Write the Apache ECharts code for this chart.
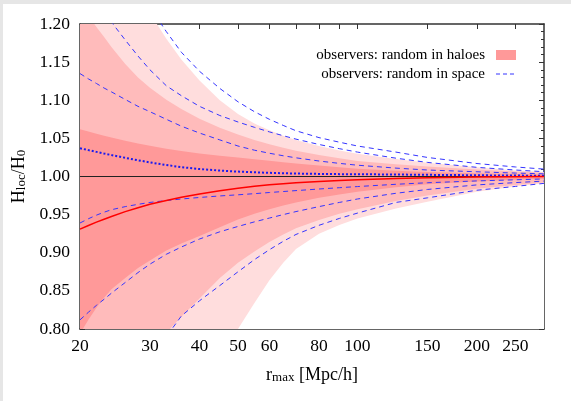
<!DOCTYPE html>
<html><head><meta charset="utf-8">
<script src="https://cdn.jsdelivr.net/npm/echarts@6/dist/echarts.min.js"></script>
<style>html,body{margin:0;padding:0;background:#fff}#c{width:571px;height:401px}</style>
</head><body><div id="c"></div>
<script>
// x samples (r_max, Mpc/h)
const xs = [20, 21, 22, 23, 24, 26, 28, 30, 33, 36, 40, 45, 50, 55, 60, 65, 70, 80, 90, 100, 125, 150, 200, 250, 295];
// observers random in haloes: shaded band edges
const lightUpper  = [1.40, 1.37, 1.345, 1.32, 1.30, 1.268, 1.24, 1.2143, 1.1805, 1.1533, 1.1259, 1.100, 1.082, 1.0696, 1.0605, 1.0535, 1.048, 1.040, 1.034, 1.030, 1.023, 1.018, 1.012, 1.008, 1.006];
const mediumUpper = [1.227, 1.211, 1.196, 1.183, 1.170, 1.1475, 1.130, 1.1163, 1.1006, 1.0884, 1.0758, 1.064, 1.055, 1.0479, 1.0422, 1.0376, 1.0339, 1.0282, 1.0238, 1.0204, 1.016, 1.013, 1.0093, 1.0066, 1.005];
const darkUpper   = [1.062, 1.059, 1.0562, 1.0536, 1.0512, 1.0468, 1.0432, 1.0402, 1.0364, 1.0334, 1.0302, 1.0272, 1.0248, 1.0225, 1.0205, 1.0187, 1.0171, 1.0143, 1.0121, 1.0103, 1.0075, 1.006, 1.0042, 1.0032, 1.0025];
const darkLower   = [0.794, 0.812, 0.828, 0.841, 0.852, 0.867, 0.880, 0.890, 0.903, 0.912, 0.922, 0.9335, 0.9435, 0.9512, 0.9572, 0.962, 0.966, 0.972, 0.9765, 0.980, 0.986, 0.9897, 0.9935, 0.9957, 0.997];
const mediumLower = [0.66, 0.675, 0.69, 0.70, 0.715, 0.735, 0.755, 0.772, 0.795, 0.816, 0.840, 0.867, 0.887, 0.9015, 0.914, 0.924, 0.932, 0.943, 0.951, 0.957, 0.968, 0.975, 0.984, 0.989, 0.992];
const lightLower  = [0.45, 0.47, 0.49, 0.51, 0.53, 0.56, 0.59, 0.62, 0.65, 0.68, 0.72, 0.765, 0.80, 0.834, 0.864, 0.887, 0.905, 0.925, 0.9365, 0.945, 0.958, 0.967, 0.980, 0.987, 0.991];
const haloMean    = [0.931, 0.9358, 0.9401, 0.944, 0.9476, 0.9539, 0.9591, 0.9635, 0.9685, 0.9727, 0.9771, 0.9813, 0.9845, 0.9871, 0.9891, 0.9906, 0.9918, 0.9936, 0.9949, 0.9959, 0.9975, 0.9985, 0.9994, 0.9998, 1.0];
// observers random in space: dashed limits and dotted mean
const space1Up = [1.135, 1.128, 1.122, 1.116, 1.111, 1.101, 1.092, 1.085, 1.075, 1.066, 1.057, 1.048, 1.040, 1.0345, 1.0305, 1.0272, 1.0245, 1.0203, 1.0172, 1.0148, 1.011, 1.0085, 1.0062, 1.0045, 1.0035];
const space1Lo = [0.939, 0.9446, 0.9493, 0.9532, 0.9564, 0.9605, 0.9635, 0.966, 0.9685, 0.9705, 0.9725, 0.9745, 0.976, 0.9775, 0.979, 0.9803, 0.9815, 0.9836, 0.9853, 0.9868, 0.9898, 0.9918, 0.9942, 0.9957, 0.9968];
const space2Up = [1.263, 1.246, 1.2295, 1.216, 1.2026, 1.179, 1.158, 1.140, 1.119, 1.106, 1.092, 1.080, 1.0715, 1.0645, 1.0585, 1.0535, 1.049, 1.042, 1.0365, 1.032, 1.024, 1.0185, 1.012, 1.0085, 1.0063];
const space2Lo = [0.812, 0.822, 0.831, 0.839, 0.847, 0.861, 0.874, 0.885, 0.898, 0.9075, 0.918, 0.9275, 0.9345, 0.9405, 0.9455, 0.950, 0.954, 0.9605, 0.966, 0.9705, 0.978, 0.983, 0.989, 0.992, 0.994];
const space3Up = [1.40, 1.375, 1.35, 1.33, 1.31, 1.28, 1.25, 1.222, 1.19, 1.163, 1.138, 1.1155, 1.098, 1.085, 1.075, 1.067, 1.060, 1.051, 1.045, 1.040, 1.032, 1.025, 1.017, 1.0125, 1.0097];
const space3Lo = [0.60, 0.62, 0.64, 0.66, 0.675, 0.70, 0.725, 0.75, 0.79, 0.817, 0.837, 0.857, 0.875, 0.891, 0.904, 0.915, 0.924, 0.936, 0.945, 0.952, 0.966, 0.972, 0.982, 0.987, 0.991];
const spaceMean = [1.037, 1.0346, 1.0323, 1.0301, 1.0281, 1.0245, 1.0213, 1.0185, 1.015, 1.0123, 1.0098, 1.0078, 1.0064, 1.0055, 1.0048, 1.0043, 1.0039, 1.0034, 1.0031, 1.003, 1.0026, 1.0022, 1.0016, 1.0012, 1.001];
const refLine = [1.0, 1.0];
const refX = [20, 295];
// axis ticks
const xTickValues = [20, 30, 40, 50, 60, 70, 80, 90, 100, 150, 200, 250];
const xLabelValues = [20, 30, 40, 50, 60, 80, 100, 150, 200, 250];

const FONT = 'Liberation Serif';
const cDark = '#ff9999', cMed = '#ffbbbb', cLight = '#ffdddd';
const blue = '#3535ff';

function pts(ys, xv) { return (xv || xs).map((x, i) => [x, ys[i]]); }
function fill(ys, color, z) {
  return { type: 'line', data: pts(ys), showSymbol: false, silent: true, z: z,
    lineStyle: { width: 0, opacity: 0 }, areaStyle: { color: color, opacity: 1, origin: 'start' } };
}
function curve(ys, color, width, type, z) {
  return { type: 'line', data: pts(ys), showSymbol: false, silent: true, z: z,
    lineStyle: { color: color, width: width, type: type } };
}
const axisLineStyle = { color: '#333', width: 1.5 };
const xCommon = {
  type: 'log', logBase: 10, min: 20, max: 295,
  axisLine: { show: true, onZero: false, lineStyle: axisLineStyle },
  axisTick: { show: true, inside: true, length: 5, lineStyle: { color: '#333', width: 1 }, customValues: xTickValues },
  splitLine: { show: false }, minorTick: { show: false }
};
const yCommon = {
  type: 'value', min: 0.80, max: 1.20, interval: 0.05,
  axisLine: { show: true, lineStyle: axisLineStyle },
  axisTick: { show: true, inside: true, length: 5, lineStyle: { color: '#333', width: 1 } },
  minorTick: { show: true, splitNumber: 5, length: 3, lineStyle: { color: '#333', width: 1 } },
  splitLine: { show: false }
};
const richTitle = {
  a: { fontFamily: FONT, fontSize: 18, color: '#000', lineHeight: 26, verticalAlign: 'bottom' },
  s: { fontFamily: FONT, fontSize: 13, color: '#000', lineHeight: 13, verticalAlign: 'bottom' }
};
const chart = echarts.init(document.getElementById('c'), null, { renderer: 'canvas' });
chart.setOption({
  backgroundColor: '#ffffff',
  animation: false,
  grid: { left: 80, right: 27, top: 24, bottom: 72 },
  xAxis: [
    Object.assign({}, xCommon, { position: 'bottom',
      axisLabel: { customValues: xLabelValues, formatter: v => String(Math.round(v)), color: '#000', fontFamily: FONT, fontSize: 17.5, margin: 8 },
      name: '{a|r}{s|max}{a| [Mpc/h]}', nameLocation: 'middle', nameGap: 29,
      nameTextStyle: { rich: richTitle } }),
    Object.assign({}, xCommon, { position: 'top', axisLabel: { show: false } })
  ],
  yAxis: [
    Object.assign({}, yCommon, { position: 'left',
      axisLabel: { formatter: v => v.toFixed(2), color: '#000', fontFamily: FONT, fontSize: 17.5, margin: 10 },
      name: '{a|H}{s|loc}{a|/H}{s|0}', nameLocation: 'middle', nameGap: 50, nameRotate: 90,
      nameTextStyle: { rich: richTitle } }),
    Object.assign({}, yCommon, { position: 'right', axisLabel: { show: false } })
  ],
  series: [
    fill(lightUpper, cLight, 1),
    fill(mediumUpper, cMed, 2),
    fill(darkUpper, cDark, 3),
    fill(darkLower, cMed, 4),
    fill(mediumLower, cLight, 5),
    fill(lightLower, '#ffffff', 6),
    { type: 'line', data: pts(refLine, refX), showSymbol: false, silent: true, z: 10, lineStyle: { color: '#222', width: 1 } },
    curve(space3Up, blue, 1, [5, 4], 11),
    curve(space2Up, blue, 1, [5, 4], 11),
    curve(space1Up, blue, 1, [5, 4], 11),
    curve(space1Lo, blue, 1, [5, 4], 11),
    curve(space2Lo, blue, 1, [5, 4], 11),
    curve(space3Lo, blue, 1, [5, 4], 11),
    curve(spaceMean, '#1a1aee', 2, [2, 2], 12),
    curve(haloMean, '#ff0000', 1.5, 'solid', 13)
  ],
  graphic: [
    { type: 'rect', shape: { x: 0, y: 0, width: 571, height: 4 }, style: { fill: '#e6e6e6' }, silent: true },
    { type: 'rect', shape: { x: 0, y: 0, width: 3, height: 401 }, style: { fill: '#e6e6e6' }, silent: true },
    { type: 'text', x: 485, y: 55, style: { text: 'observers: random in haloes', font: '15px "Liberation Serif"', fill: '#000', align: 'right', verticalAlign: 'middle' }, z: 100 },
    { type: 'text', x: 485, y: 74, style: { text: 'observers: random in space', font: '15px "Liberation Serif"', fill: '#000', align: 'right', verticalAlign: 'middle' }, z: 100 },
    { type: 'rect', shape: { x: 496, y: 50, width: 20, height: 10 }, style: { fill: cDark }, z: 100 },
    { type: 'line', shape: { x1: 496, y1: 74, x2: 516, y2: 74 }, style: { stroke: blue, lineWidth: 1, lineDash: [4, 3] }, z: 100 }
  ]
});
</script></body></html>
